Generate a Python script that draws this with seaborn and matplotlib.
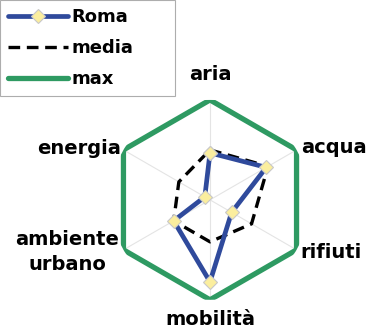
import numpy as np
import matplotlib
matplotlib.use('Agg')
import matplotlib.pyplot as plt
import seaborn as sns

# dati
assi = ['aria', 'acqua', 'rifiuti', 'mobilità', 'ambiente\nurbano', 'energia']
roma = [0.47, 0.65, 0.25, 0.82, 0.42, 0.06]
media = [0.50, 0.67, 0.48, 0.42, 0.42, 0.36]
massimo = [1, 1, 1, 1, 1, 1]

sns.set_style('white')
plt.rcParams['font.family'] = ['DejaVu Sans']
plt.rcParams['text.color'] = 'black'

blu = '#2f4a9c'
verde = '#2e9a62'

theta = np.linspace(0, 2 * np.pi, len(assi), endpoint=False)
th = np.append(theta, theta[0])

def chiudi(v):
    return np.append(v, v[0])

fig = plt.figure(figsize=(3.74, 3.32), dpi=100)
ax = fig.add_axes([0.294, 0.097, 0.535, 0.602], projection='polar')
ax.set_theta_offset(np.pi / 2)
ax.set_theta_direction(-1)

ax.plot(th, chiudi(massimo), color=verde, lw=3.8, label='max', zorder=2,
        solid_joinstyle='miter')
ax.plot(th, chiudi(media), color='black', lw=2.4, label='media', zorder=3,
        dashes=[3.5, 2])
ax.plot(th, chiudi(roma), color=blu, lw=3.4, marker='D', markersize=7,
        markerfacecolor='#fbee9e', markeredgecolor='#c8c8c8',
        markeredgewidth=0.8, label='Roma', zorder=4)

ax.set_ylim(0, 1)
ax.set_yticks([])
ax.set_xticks(theta)
ax.set_xticklabels([])
ax.xaxis.grid(True, color='#e4e4e4', lw=0.8)
ax.yaxis.grid(False)
ax.spines['polar'].set_visible(False)

# etichette degli assi
pos = [(0, 1.25, 'center'), (np.pi/3, 1.05, 'left'), (2*np.pi/3, 1.05, 'left'),
       (np.pi, 1.2, 'center'), (4*np.pi/3, 1.05, 'right'), (5*np.pi/3, 1.03, 'right')]
for (t, r, ha), lab in zip(pos, assi):
    ax.text(t, r, lab, ha=ha, va='center', fontsize=14, fontweight='bold',
            color='black', linespacing=1.4, multialignment='center')

h, l = ax.get_legend_handles_labels()
ordine = [2, 1, 0]
leg = fig.legend([h[i] for i in ordine], [l[i] for i in ordine],
                 loc='upper left', bbox_to_anchor=(0.0, 0.708, 0.468, 0.292),
                 mode='expand', prop={'size': 13, 'weight': 'bold'},
                 frameon=True, fancybox=False, edgecolor='#999999',
                 handlelength=3.3, handletextpad=0.2, borderaxespad=0.0,
                 labelspacing=0.72, borderpad=0.45)
leg.get_frame().set_linewidth(0.8)

fig.savefig('out.png', dpi=100)
